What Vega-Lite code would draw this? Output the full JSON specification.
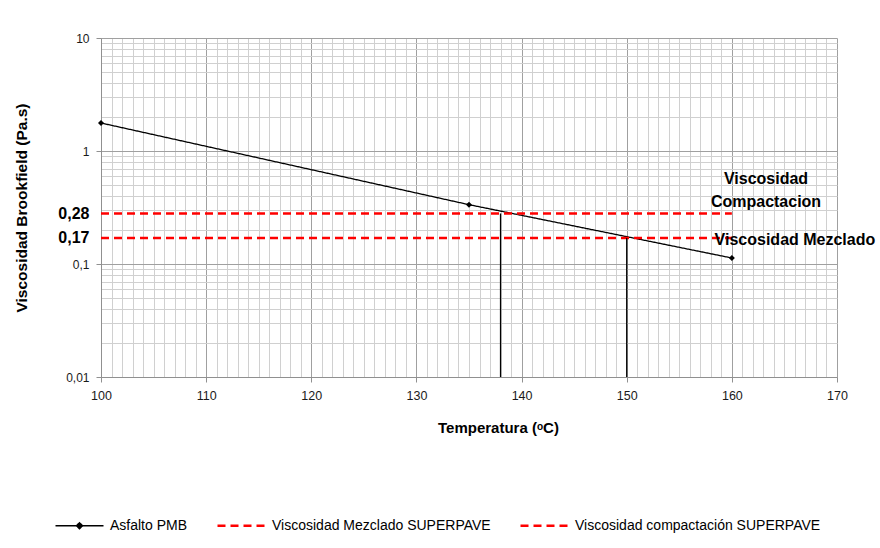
{
  "$schema": "https://vega.github.io/schema/vega-lite/v6.json",
  "width": 736,
  "height": 339,
  "autosize": {"type": "none"},
  "padding": {"left": 101, "top": 38, "right": 43, "bottom": 171},
  "background": "white",
  "config": {
    "font": "Liberation Sans",
    "view": {"stroke": null},
    "axis": {"labelFont": "Liberation Sans", "titleFont": "Liberation Sans"}
  },
  "datasets": {
    "series": [
      {"serie": "Asfalto PMB", "temp": 100, "visc": 1.77},
      {"serie": "Asfalto PMB", "temp": 135, "visc": 0.335},
      {"serie": "Asfalto PMB", "temp": 160, "visc": 0.113},
      {"serie": "Viscosidad Mezclado SUPERPAVE", "temp": 100, "visc": 0.17},
      {"serie": "Viscosidad Mezclado SUPERPAVE", "temp": 160, "visc": 0.17},
      {"serie": "Viscosidad compactación SUPERPAVE", "temp": 100, "visc": 0.28},
      {"serie": "Viscosidad compactación SUPERPAVE", "temp": 160, "visc": 0.28}
    ],
    "verticales": [
      {"temp": 138, "v1": 0.01, "v2": 0.28},
      {"temp": 150, "v1": 0.01, "v2": 0.17}
    ],
    "etiquetas": [
      {"temp": 163.25, "visc": 0.57, "texto": "Viscosidad\nCompactacion"},
      {"temp": 166.0, "visc": 0.162, "texto": "Viscosidad Mezclado"}
    ]
  },
  "layer": [
    {
      "data": {"name": "series"},
      "mark": {"type": "line", "clip": false},
      "encoding": {
        "x": {
          "field": "temp", "type": "quantitative",
          "scale": {"domain": [100, 170], "nice": false, "zero": false},
          "axis": {
            "title": "Temperatura (ᵒC)",
            "titleFontSize": 15, "titleFontWeight": "bold", "titleColor": "#000000",
            "titleX": 397, "titleY": 55, "titleBaseline": "alphabetic", "titleAnchor": null,
            "tickCount": 500,
            "values": [100,101,102,103,104,105,106,107,108,109,110,111,112,113,114,115,116,117,118,119,120,121,122,123,124,125,126,127,128,129,130,131,132,133,134,135,136,137,138,139,140,141,142,143,144,145,146,147,148,149,150,151,152,153,154,155,156,157,158,159,160,161,162,163,164,165,166,167,168,169,170],
            "labelExpr": "datum.value % 10 === 0 ? format(datum.value, 'd') : ''",
            "labelOverlap": false,
            "labelFontSize": 12.5, "labelColor": "#1a1a1a", "labelPadding": 7, "labelFlush": false,
            "grid": true,
            "gridColor": {"condition": {"test": "datum.value % 10 === 0", "value": "#a0a0a0"}, "value": "#d0d0d0"},
            "gridWidth": 1,
            "tickColor": {"condition": {"test": "datum.value % 10 === 0", "value": "#909090"}, "value": "transparent"},
            "tickSize": 5,
            "domainColor": "#909090"
          }
        },
        "y": {
          "field": "visc", "type": "quantitative",
          "scale": {"type": "log", "domain": [0.01, 10], "nice": false},
          "axis": {
            "title": "Viscosidad Brookfield (Pa.s)",
            "titleFontSize": 15.5, "titleFontWeight": "bold", "titleColor": "#000000",
            "titlePadding": 28,
            "tickCount": 500,
            "values": [0.01,0.02,0.03,0.04,0.05,0.06,0.07,0.08,0.09,0.1,0.17,0.2,0.28,0.3,0.4,0.5,0.6,0.7,0.8,0.9,1,2,3,4,5,6,7,8,9,10],
            "labelExpr": "(datum.value === 0.01 || datum.value === 0.1 || datum.value === 1 || datum.value === 10 || datum.value === 0.17 || datum.value === 0.28) ? replace(format(datum.value, '~g'), '.', ',') : ''",
            "labelOverlap": false,
            "labelFontSize": {"condition": {"test": "datum.value === 0.17 || datum.value === 0.28", "value": 16}, "value": 12},
            "labelFontWeight": {"condition": {"test": "datum.value === 0.17 || datum.value === 0.28", "value": "bold"}, "value": "normal"},
            "labelColor": {"condition": {"test": "datum.value === 0.17 || datum.value === 0.28", "value": "#000000"}, "value": "#1a1a1a"},
            "labelPadding": 7, "labelFlush": false,
            "grid": true,
            "gridColor": {"condition": [
              {"test": "datum.value === 0.17 || datum.value === 0.28", "value": "transparent"},
              {"test": "datum.value === 0.01 || datum.value === 0.1 || datum.value === 1 || datum.value === 10", "value": "#a0a0a0"}
            ], "value": "#d0d0d0"},
            "gridWidth": 1,
            "tickColor": {"condition": {"test": "datum.value === 0.01 || datum.value === 0.1 || datum.value === 1 || datum.value === 10", "value": "#909090"}, "value": "transparent"},
            "tickSize": 5,
            "domainColor": "#909090"
          }
        },
        "color": {
          "field": "serie", "type": "nominal",
          "scale": {
            "domain": ["Asfalto PMB", "Viscosidad Mezclado SUPERPAVE", "Viscosidad compactación SUPERPAVE"],
            "range": ["#000000", "#ff0000", "#ff0000"]
          },
          "legend": {
            "orient": "none", "legendX": -47, "legendY": 462, "direction": "horizontal",
            "title": null,
            "symbolType": "stroke", "symbolSize": 2304,
            "labelFont": "Liberation Sans", "labelFontSize": 14, "labelColor": "#000000",
            "labelOffset": 5, "columnPadding": 24, "labelLimit": 500,
            "encode": {
              "symbols": {
                "update": {
                  "size": {"value": 2304},
                  "shape": {"signal": "(datum.value === 'Asfalto PMB' ? 'M-1,0H1M0,-0.13L0.13,0L0,0.13L-0.13,0Z' : 'stroke')"},
                  "fill": {"signal": "(datum.value === 'Asfalto PMB' ? '#000000' : 'transparent')"},
                  "strokeWidth": {"signal": "(datum.value === 'Asfalto PMB' ? 1.3 : 2.5)"}
                }
              }
            }
          }
        },
        "strokeDash": {
          "field": "serie", "type": "nominal",
          "scale": {
            "domain": ["Asfalto PMB", "Viscosidad Mezclado SUPERPAVE", "Viscosidad compactación SUPERPAVE"],
            "range": [[1, 0], [8, 5], [8, 5]]
          },
          "legend": {
            "orient": "none", "legendX": -47, "legendY": 462, "direction": "horizontal",
            "title": null,
            "symbolType": "stroke", "symbolSize": 2304,
            "labelFont": "Liberation Sans", "labelFontSize": 14, "labelColor": "#000000",
            "labelOffset": 5, "columnPadding": 24, "labelLimit": 500
          }
        },
        "strokeWidth": {"condition": {"test": "datum.serie === 'Asfalto PMB'", "value": 1.3}, "value": 2.5}
      }
    },
    {
      "data": {"name": "series"},
      "transform": [{"filter": "datum.serie === 'Asfalto PMB'"}],
      "mark": {"type": "point", "shape": "diamond", "filled": true, "size": 36, "color": "#000000", "opacity": 1},
      "encoding": {
        "x": {"field": "temp", "type": "quantitative"},
        "y": {"field": "visc", "type": "quantitative"}
      }
    },
    {
      "data": {"name": "verticales"},
      "mark": {"type": "rule", "color": "#000000", "strokeWidth": 1.3},
      "encoding": {
        "x": {"field": "temp", "type": "quantitative"},
        "y": {"field": "v1", "type": "quantitative"},
        "y2": {"field": "v2"}
      }
    },
    {
      "data": {"name": "etiquetas"},
      "mark": {"type": "text", "font": "Liberation Sans", "fontSize": 16, "fontWeight": "bold", "color": "#000000", "align": "center", "baseline": "middle", "lineBreak": "\n", "lineHeight": 23},
      "encoding": {
        "x": {"field": "temp", "type": "quantitative"},
        "y": {"field": "visc", "type": "quantitative"},
        "text": {"field": "texto"}
      }
    }
  ]
}
